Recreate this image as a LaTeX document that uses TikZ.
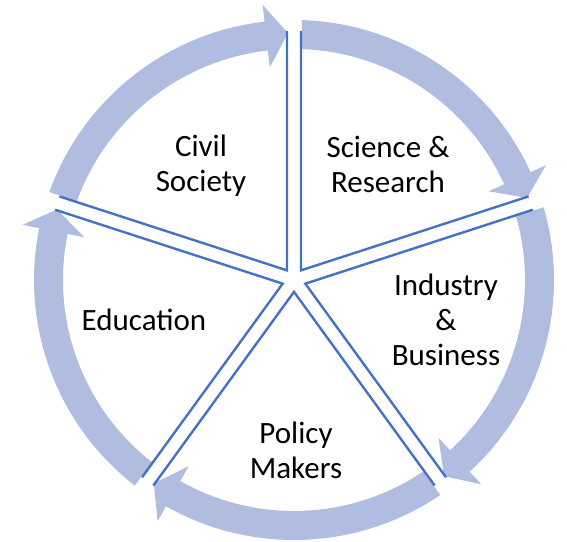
\documentclass[tikz,border=0pt]{standalone}
\usepackage{fontspec}
\setmainfont{Carlito}
\usetikzlibrary{calc}
\definecolor{arrowfill}{RGB}{177,189,224}
\definecolor{edgeblue}{RGB}{68,114,196}
\begin{document}
\begin{tikzpicture}[x=1pt,y=1pt,
  cyclearrow/.style={fill=arrowfill, draw=none},
  wedgeedge/.style={draw=edgeblue, line width=2.4pt},
  txt/.style={font=\fontsize{31}{35}\selectfont, align=center, text=black}]
\useasboundingbox (0,0) rectangle (567,541);
\coordinate (C) at (294,261);
\foreach \t/\n in {126/a,54/b,-18/c,-90/d,-162/e} {
  \coordinate (A\n) at ($(C)+(\t:11.9pt)$);
  \coordinate (P\n) at ($(A\n)+(\t+36:239.3pt)$);
  \coordinate (Q\n) at ($(A\n)+(\t-36:239.3pt)$);
  \fill[cyclearrow] ($(C)+(\t+34.24:260pt)$)
     arc[start angle=\t+34.24, end angle=\t-29.5, radius=260pt]
     -- ($(C)+(\t-29.5:277pt)$)
     -- ($(C)+(\t-34.6:247pt)$)
     -- ($(C)+(\t-29.5:214pt)$)
     -- ($(C)+(\t-29.5:231pt)$)
     arc[start angle=\t-29.5, end angle=\t+34.02, radius=231pt]
     -- cycle;
  \draw[wedgeedge] (P\n) -- (A\n) -- (Q\n);
}
\node[txt] (civil) at (201,375) {Civil\\Society};
\node[txt] (science) at (388,377) {Science \&\\Research};
\node[txt] (industry) at (446,221) {Industry\\\&\\Business};
\node[txt] (education) at (144,221) {Education};
\node[txt] (policy) at (296,91) {Policy\\Makers};
\end{tikzpicture}
\end{document}
